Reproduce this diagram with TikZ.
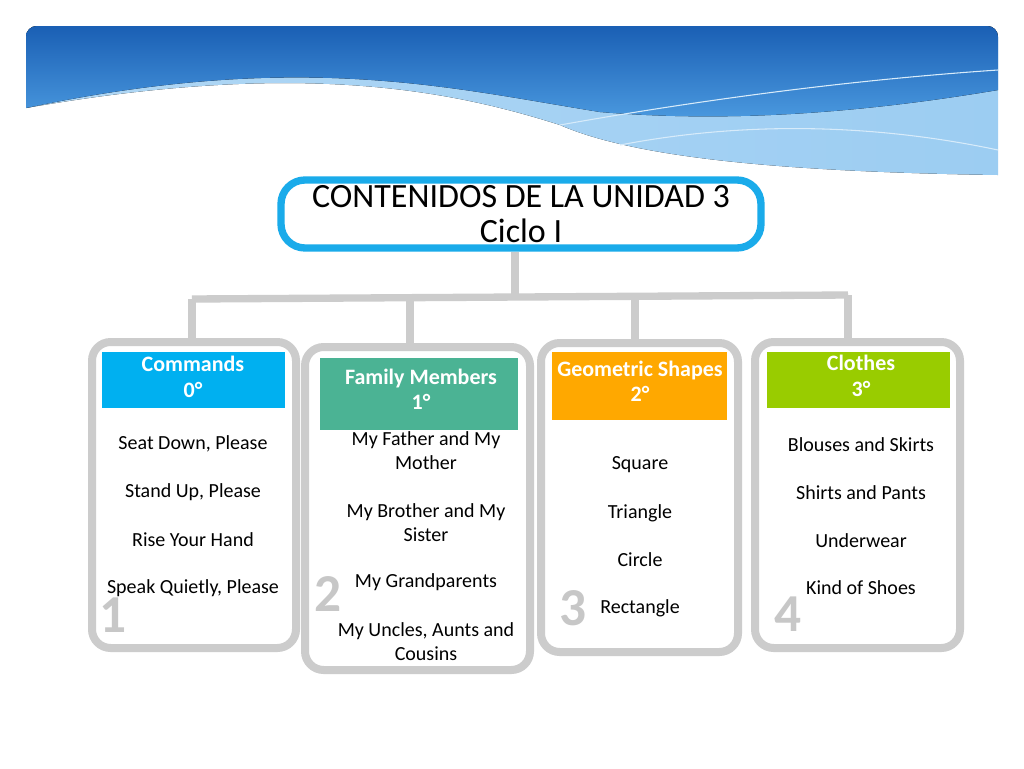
\documentclass[tikz,border=0pt]{standalone}
\usepackage{fontspec}
\setmainfont{Carlito}
\definecolor{hb}{HTML}{00B0F0}
\definecolor{ht}{HTML}{4BB394}
\definecolor{ho}{HTML}{FFA800}
\definecolor{hg}{HTML}{99CC00}
\definecolor{bd}{HTML}{1A5FB4}
\definecolor{bm}{HTML}{4C9BE0}
\definecolor{bl}{HTML}{9CCDF2}
\definecolor{tb}{HTML}{1AABEA}
\begin{document}
\begin{tikzpicture}[x=0.75pt,y=-0.75pt,
 conn/.style={draw=black!20,line width=5.5pt},
 card/.style={draw=black!20,line width=6pt,rounded corners=14pt,fill=white},
 hdr/.style={text=white,font=\bfseries\fontsize{16.5}{19}\selectfont,align=center,inner sep=0pt},
 item/.style={font=\fontsize{15}{18}\selectfont,align=center,inner sep=0pt},
 num/.style={font=\bfseries\fontsize{40}{40}\selectfont,text=black!22,inner sep=0pt}]
\useasboundingbox (0,0) rectangle (1024,768);
\fill[white] (0,0) rectangle (1024,768);
% banner
\begin{scope}
\clip[rounded corners=8pt] (26,26) rectangle (998,200);
\fill[left color=bl!80!white,right color=bl] (26,26) -- (998,26) -- (998,175) .. controls (800,172) and (640,160) .. (560,125) .. controls (450,90) and (300,60) .. (26,108) -- cycle;
\fill[top color=bd,bottom color=bm] (26,26) -- (998,26) -- (998,90) .. controls (850,115) and (720,122) .. (600,112) .. controls (450,88) and (300,50) .. (26,108) -- cycle;
\draw[white!60!bl,line width=0.8pt] (560,125) .. controls (700,100) and (850,80) .. (998,70);
\draw[white!60!bl,line width=0.8pt] (620,145) .. controls (750,120) and (880,125) .. (998,150);
\end{scope}
% title
\node[draw=tb,line width=5.5pt,rounded corners=18pt,fill=white,minimum width=480pt*0.75,minimum height=68pt*0.75,align=center,font=\fontsize{25.5}{26}\selectfont,inner sep=0pt] (t) at (521,214) {CONTENIDOS DE LA UNIDAD 3\\Ciclo I};
% connectors
\coordinate (tb) at (515,252);
\coordinate (j) at (515,297);
\coordinate (h1) at (192,299); \coordinate (h4) at (848,295);
\coordinate (h2) at (410,298); \coordinate (h3) at (635,296);
\draw[conn] (tb) -- (j);
\draw[conn] (h1) -- (h4);
\draw[conn] (h1) -- (192,345);
\draw[conn] (h2) -- (410,350);
\draw[conn] (h3) -- (635,346);
\draw[conn] (h4) -- (848,345);
% cards
\draw[card] (92,342) rectangle (296,648);
\draw[card] (305,347) rectangle (530,670);
\draw[card] (541,343) rectangle (738,652);
\draw[card] (755,342) rectangle (960,648);
% headers
\fill[hb] (102,352) rectangle (285,408);
\node[hdr] (c1) at (193,377) {Commands\\0°};
\fill[ht] (320,358) rectangle (518,430);
\node[hdr] (c2) at (421,389) {Family Members\\1°};
\fill[ho] (552,352) rectangle (727,420);
\node[hdr] (c3) at (640,381) {Geometric Shapes\\2°};
\fill[hg] (767,352) rectangle (950,408);
\node[hdr] (c4) at (861,376) {Clothes\\3°};
% items
\node[item] at (193,444) {Seat Down, Please};
\node[item] at (193,492) {Stand Up, Please};
\node[item] at (193,540) {Rise Your Hand};
\node[item] at (193,588) {Speak Quietly, Please};
\node[item] at (426,451) {My Father and My\\Mother};
\node[item] at (426,523) {My Brother and My\\Sister};
\node[item] at (426,582) {My Grandparents};
\node[item] at (426,642) {My Uncles, Aunts and\\Cousins};
\node[item] at (640,465) {Square};
\node[item] at (640,513) {Triangle};
\node[item] at (640,560) {Circle};
\node[item] at (640,608) {Rectangle};
\node[item] at (861,445) {Blouses and Skirts};
\node[item] at (861,493) {Shirts and Pants};
\node[item] at (861,541) {Underwear};
\node[item] at (861,588) {Kind of Shoes};
% numbers
\node[num] (n1) at (113,615) {1};
\node[num] (n2) at (328,594) {2};
\node[num] (n3) at (573,608) {3};
\node[num] (n4) at (788,614) {4};
\end{tikzpicture}
\end{document}
